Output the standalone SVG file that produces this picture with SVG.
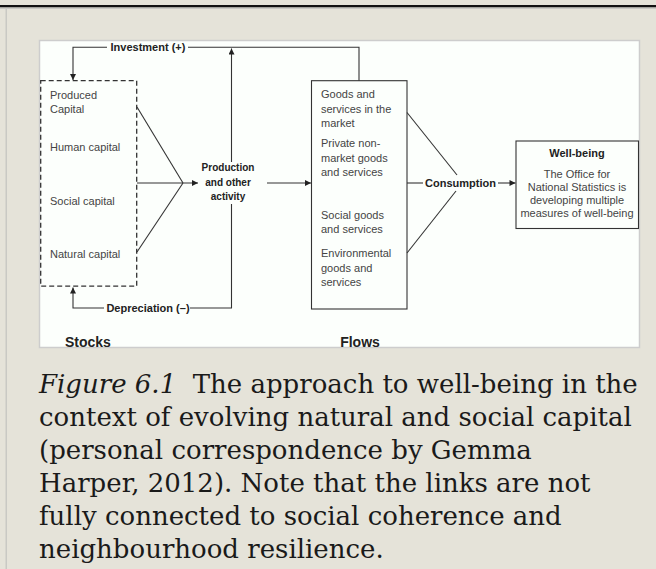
<svg xmlns="http://www.w3.org/2000/svg" width="656" height="569" viewBox="0 0 656 569">
<defs>
<style>
.t{font-family:"Liberation Sans",Arial,sans-serif;font-size:11px;fill:#444}
.b{font-family:"Liberation Sans",Arial,sans-serif;font-weight:bold;fill:#222}
.ln{stroke:#333;stroke-width:1.1;fill:none}
.cap{font-family:"DejaVu Serif",serif;font-size:26px;fill:#1a1a1a}
</style>
<marker id="ah" viewBox="0 0 10 10" refX="10" refY="5" markerWidth="7" markerHeight="6" markerUnits="userSpaceOnUse" orient="auto">
<path d="M0,0 L10,5 L0,10 z" fill="#222"/>
</marker>
</defs>
<rect x="0" y="0" width="656" height="569" fill="#e5e3d9"/>
<rect x="0" y="5" width="656" height="2.5" fill="#111"/>
<rect x="0" y="7.5" width="656" height="1.5" fill="#c9c9c4"/>
<rect x="5.5" y="9" width="1.5" height="560" fill="#c9c9c4"/>
<rect x="39.5" y="40.5" width="600" height="307" fill="#fcfffc" stroke="#cdcdcd" stroke-width="1.5"/>

<g id="stocks">
<rect x="40.7" y="80.7" width="96" height="205.5" fill="none" stroke="#333" stroke-width="1.3" stroke-dasharray="5,3"/>
<text class="t" x="50" y="99">Produced</text>
<text class="t" x="50" y="113">Capital</text>
<text class="t" x="50" y="151">Human capital</text>
<text class="t" x="50" y="205">Social capital</text>
<text class="t" x="50" y="258">Natural capital</text>
</g>

<g id="production">
<text class="b" font-size="10" text-anchor="middle" x="228" y="171">Production</text>
<text class="b" font-size="10" text-anchor="middle" x="228" y="186">and other</text>
<text class="b" font-size="10" text-anchor="middle" x="228" y="200">activity</text>
</g>

<g id="flows">
<rect x="311.5" y="80.7" width="95.5" height="228.3" fill="none" stroke="#333" stroke-width="1.1"/>
<text class="t" x="321" y="98">Goods and</text>
<text class="t" x="321" y="112.5">services in the</text>
<text class="t" x="321" y="127">market</text>
<text class="t" x="321" y="147">Private non-</text>
<text class="t" x="321" y="161.5">market goods</text>
<text class="t" x="321" y="176">and services</text>
<text class="t" x="321" y="219">Social goods</text>
<text class="t" x="321" y="233">and services</text>
<text class="t" x="321" y="257">Environmental</text>
<text class="t" x="321" y="271.5">goods and</text>
<text class="t" x="321" y="286">services</text>
</g>

<g id="consumption">
<text class="b" font-size="11" x="425" y="187">Consumption</text>
</g>

<g id="wellbeing">
<rect x="516" y="141" width="122.5" height="87.5" fill="none" stroke="#333" stroke-width="1.1"/>
<text class="b" font-size="11" text-anchor="middle" x="577" y="157">Well-being</text>
<text class="t" text-anchor="middle" x="577" y="177.5">The Office for</text>
<text class="t" text-anchor="middle" x="577" y="190.5">National Statistics is</text>
<text class="t" text-anchor="middle" x="577" y="203.5">developing multiple</text>
<text class="t" text-anchor="middle" x="577" y="216.5">measures of well-being</text>
</g>

<g id="labels">
<text class="b" font-size="11" text-anchor="middle" x="148" y="51">Investment (+)</text>
<text class="b" font-size="11" text-anchor="middle" x="148" y="312">Depreciation (–)</text>
<text class="b" font-size="14" x="65" y="347">Stocks</text>
<text class="b" font-size="14" text-anchor="middle" x="360" y="347">Flows</text>
</g>

<g id="connectors">
<path class="ln" d="M359,80.7 V47.3 H188"/>
<path class="ln" d="M107,47.3 H73 V80" marker-end="url(#ah)"/>
<path class="ln" d="M231.5,162 V48.5" marker-end="url(#ah)"/>
<path class="ln" d="M231.5,204 V308 H190"/>
<path class="ln" d="M104,308 H73 V287.5" marker-end="url(#ah)"/>
<path class="ln" d="M137,107 L183,183"/>
<path class="ln" d="M137,252 L183,183"/>
<path class="ln" d="M137,183 H198" marker-end="url(#ah)"/>
<path class="ln" d="M267,183 H311" marker-end="url(#ah)"/>
<path class="ln" d="M407,112.5 L457,175"/>
<path class="ln" d="M407,253 L456,191"/>
<path class="ln" d="M407,183 H423"/>
<path class="ln" d="M498,183 H515.5" marker-end="url(#ah)"/>
</g>

<g id="caption">
<text class="cap" x="39" y="393"><tspan font-style="italic">Figure 6.1</tspan>&#160; The approach to well-being in the</text>
<text class="cap" x="39" y="426">context of evolving natural and social capital</text>
<text class="cap" x="39" y="459">(personal correspondence by Gemma</text>
<text class="cap" x="39" y="492">Harper, 2012). Note that the links are not</text>
<text class="cap" x="39" y="525">fully connected to social coherence and</text>
<text class="cap" x="39" y="558">neighbourhood resilience.</text>
</g>
</svg>
